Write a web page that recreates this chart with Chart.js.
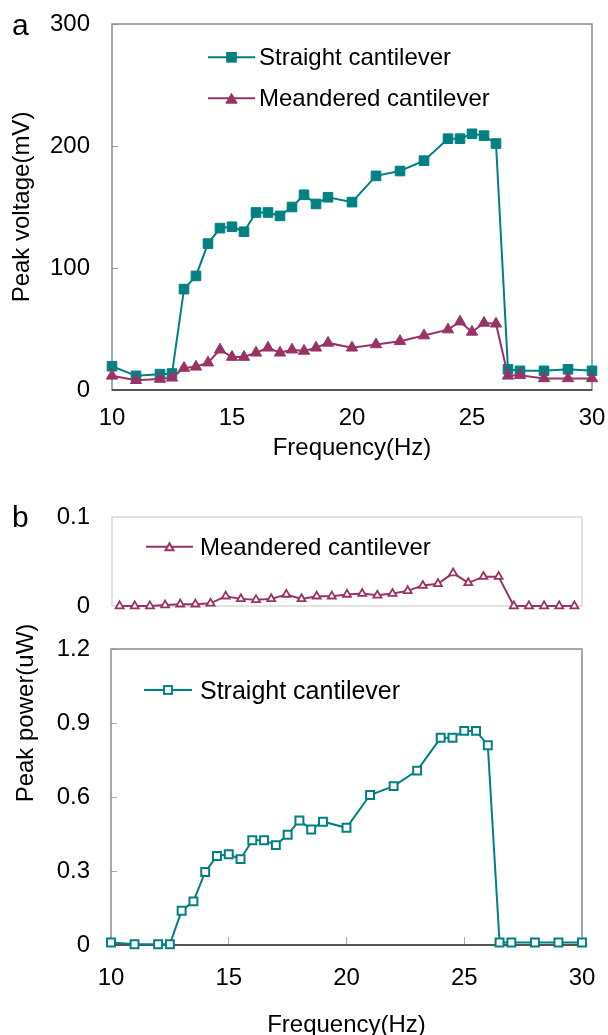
<!DOCTYPE html>
<html>
<head>
<meta charset="utf-8">
<script src="https://cdn.jsdelivr.net/npm/chart.js@4.4.1/dist/chart.umd.min.js"></script>
<style>
  html, body { margin: 0; padding: 0; background: #fff; overflow: hidden; }
  #page { position: relative; width: 608px; height: 1035px; overflow: hidden;
          font-family: 'Liberation Sans', Arial, sans-serif; color: #000; }
  canvas { position: absolute; left: 0; }
  .txt { position: absolute; white-space: nowrap; }
  .key { position: absolute; left: 0; top: 0; }
  .ytitle { position: absolute; white-space: nowrap; font-size: 24px; line-height: 24px;
            transform: translate(-50%, -50%) rotate(-90deg); }
</style>
</head>
<body>
<div id="page">
  <canvas id="chart-a" width="608" height="470" style="top:0"></canvas>
  <canvas id="chart-b1" width="608" height="140" style="top:490px"></canvas>
  <canvas id="chart-b2" width="608" height="410" style="top:630px"></canvas>

  <div class="txt" style="left:12px; top:10px; font-size:30px; line-height:30px;">a</div>
  <div class="txt" style="left:12px; top:502px; font-size:30px; line-height:30px;">b</div>
  <div class="ytitle" style="left:25px; top:713px;">Peak power(uW)</div>
</div>

<script>
// Dados (frequência em Hz)
const freqs = [10, 11, 12, 12.5, 13, 13.5, 14, 14.5, 15, 15.5, 16, 16.5, 17, 17.5, 18, 18.5, 19,
               20, 21, 22, 23, 24, 24.5, 25, 25.5, 26, 26.5, 27, 28, 29, 30];

// (a) tensão de pico, mV
const straightVoltage = [19.5, 11.6, 13, 13.5, 82.7, 93.5, 120, 132.7, 133.8, 129.7, 145.5, 145.5,
                         142.7, 150, 160, 152.5, 158, 154, 175.5, 179.5, 188, 206, 206, 210, 208.5,
                         202, 17, 15.7, 15.7, 17, 15.7];
const meanderedVoltage = [11.6, 8, 9, 10, 18, 19, 22.4, 33, 27, 27, 30.5, 34.6, 30.5, 33, 32, 34.6,
                          38.6, 34.6, 37.3, 40, 44.6, 49.5, 56, 47.6, 55, 54.3, 11.6, 12, 9.5, 9.5, 9.5];

// (b) potência de pico, uW
const meanderedPower = [0, 0, 0, 0.001, 0.002, 0.002, 0.003, 0.011, 0.008, 0.007, 0.008, 0.013,
                        0.008, 0.011, 0.011, 0.013, 0.014, 0.012, 0.014, 0.017, 0.023, 0.025, 0.037,
                        0.026, 0.033, 0.033, 0, 0, 0, 0, 0];
const straightPower = [0.01, 0.003, 0.003, 0.003, 0.139, 0.177, 0.296, 0.361, 0.368, 0.348, 0.425,
                       0.425, 0.405, 0.447, 0.505, 0.468, 0.5, 0.475, 0.608, 0.644, 0.707, 0.84, 0.84,
                       0.868, 0.868, 0.81, 0.01, 0.01, 0.01, 0.01, 0.01];

const TEAL = '#008080';
const PLUM = '#993366';

Chart.defaults.font.family = "'Liberation Sans', Arial, sans-serif";
Chart.defaults.font.size = 24;
Chart.defaults.color = '#000';

// moldura em volta da área do gráfico
const framePlugin = {
    id: 'frame',
    beforeDatasetsDraw(chart, args, opts) {
        const { left, top, right, bottom } = chart.chartArea;
        const ctx = chart.ctx;
        ctx.save();
        ctx.strokeStyle = opts.color;
        ctx.lineWidth = opts.width;
        ctx.strokeRect(left, top, right - left, bottom - top);
        if (opts.axisColor) {
            ctx.strokeStyle = opts.axisColor;
            ctx.lineWidth = opts.axisWidth;
            ctx.beginPath();
            ctx.moveTo(left, bottom);
            ctx.lineTo(right, bottom);
            ctx.stroke();
        }
        ctx.restore();
    }
};

// largura/altura fixas dos eixos, sem folga automática para os rótulos
function eixoY(largura) {
    return s => { s.width = largura; s.paddingTop = 0; s.paddingBottom = 0; };
}
function eixoX(altura) {
    return s => { s.height = altura; s.paddingLeft = 0; s.paddingRight = 0; };
}

function pontos(ys) {
    return freqs.map((f, i) => ({ x: f, y: ys[i] }));
}

// (a) Peak voltage
new Chart(document.getElementById('chart-a'), {
    type: 'line',
    data: {
        datasets: [{
            label: 'Straight cantilever',
            data: pontos(straightVoltage),
            borderColor: TEAL,
            backgroundColor: TEAL,
            borderWidth: 2,
            pointStyle: 'rect',
            pointRadius: 6.8,
            pointBorderWidth: 1,
            pointBackgroundColor: TEAL,
            order: 1,
            clip: false
        }, {
            label: 'Meandered cantilever',
            data: pontos(meanderedVoltage),
            borderColor: PLUM,
            backgroundColor: PLUM,
            borderWidth: 2,
            pointStyle: 'triangle',
            pointRadius: 6.5,
            pointBorderWidth: 1,
            pointBackgroundColor: PLUM,
            order: 0,
            clip: false
        }]
    },
    options: {
        responsive: false,
        animation: false,
        layout: { padding: { top: 24, right: 16, left: 0, bottom: 0 } },
        plugins: {
            legend: { display: false },
            tooltip: { enabled: false },
            frame: { color: '#8c8c8c', width: 1.5, axisColor: '#555', axisWidth: 2 }
        },
        scales: {
            x: {
                type: 'linear', min: 10, max: 30,
                ticks: { stepSize: 5, padding: 14 },
                grid: { display: false, drawTicks: false },
                border: { display: false },
                title: { display: true, text: 'Frequency(Hz)', padding: { top: 0, bottom: 7 } },
                afterFit: eixoX(80)
            },
            y: {
                min: 0, max: 300,
                ticks: { stepSize: 100, padding: 28 },
                grid: { drawOnChartArea: false, tickLength: -6, tickColor: '#9a9a9a' },
                border: { display: false },
                title: { display: true, text: 'Peak voltage(mV)', padding: { top: 8, bottom: 0 } },
                afterFit: eixoY(112)
            }
        }
    },
    plugins: [framePlugin]
});

// (b) topo: meandered, eixo de categorias
new Chart(document.getElementById('chart-b1'), {
    type: 'line',
    data: {
        labels: freqs.map(String),
        datasets: [{
            label: 'Meandered cantilever',
            data: meanderedPower,
            borderColor: PLUM,
            borderWidth: 2,
            pointStyle: 'triangle',
            pointRadius: 4.6,
            pointBorderWidth: 1.8,
            pointBorderColor: PLUM,
            pointBackgroundColor: '#fff',
            clip: false
        }]
    },
    options: {
        responsive: false,
        animation: false,
        layout: { padding: { top: 27, right: 26, left: 0, bottom: 24 } },
        plugins: {
            legend: { display: false },
            tooltip: { enabled: false },
            frame: { color: '#c4c4c4', width: 1 }
        },
        scales: {
            x: { type: 'category', offset: true, display: false },
            y: {
                min: 0, max: 0.1,
                ticks: { stepSize: 0.1, padding: 22, callback: v => v === 0 ? '0' : String(+v.toFixed(1)) },
                grid: { display: false, drawTicks: false },
                border: { display: false },
                afterFit: eixoY(112)
            }
        }
    },
    plugins: [framePlugin]
});

// (b) baixo: straight
new Chart(document.getElementById('chart-b2'), {
    type: 'line',
    data: {
        datasets: [{
            label: 'Straight cantilever',
            data: pontos(straightPower),
            borderColor: TEAL,
            borderWidth: 2,
            pointStyle: 'rect',
            pointRadius: 5.6,
            pointBorderWidth: 2,
            pointBorderColor: TEAL,
            pointBackgroundColor: '#fff',
            clip: false
        }]
    },
    options: {
        responsive: false,
        animation: false,
        layout: { padding: { top: 19, right: 26, left: 0, bottom: 0 } },
        plugins: {
            legend: { display: false },
            tooltip: { enabled: false },
            frame: { color: '#8c8c8c', width: 1.5, axisColor: '#555', axisWidth: 2 }
        },
        scales: {
            x: {
                type: 'linear', min: 10, max: 30,
                ticks: { stepSize: 5, padding: 27 },
                grid: { drawOnChartArea: false, tickLength: -8, tickColor: '#aaa' },
                border: { display: false },
                title: { display: true, text: 'Frequency(Hz)', padding: { top: 0, bottom: 0 } },
                afterFit: eixoX(95)
            },
            y: {
                min: 0, max: 1.2,
                ticks: { stepSize: 0.3, padding: 27, callback: v => v === 0 ? '0' : Number(v).toFixed(1) },
                grid: { drawOnChartArea: false, tickLength: -6, tickColor: '#aaa' },
                border: { display: false },
                afterFit: eixoY(111)
            }
        }
    },
    plugins: [framePlugin]
});

// Legendas (linha + marcador + texto), dentro das áreas dos gráficos
function marcadorSvg(shape, cx, cy, size, color, filled) {
    const fill = filled ? color : '#fff';
    const sw = filled ? 1 : 2;
    if (shape === 'rect') {
        return `<rect x="${cx - size / 2}" y="${cy - size / 2}" width="${size}" height="${size}" fill="${fill}" stroke="${color}" stroke-width="${sw}"/>`;
    }
    // triângulo com a caixa centrada na linha
    const r = size;
    const c = cy + r / 4;
    const pts = [[cx, c - r], [cx + r * 0.866, c + r / 2], [cx - r * 0.866, c + r / 2]]
        .map(p => p.join(',')).join(' ');
    return `<polygon points="${pts}" fill="${fill}" stroke="${color}" stroke-width="${sw}"/>`;
}

function addLegenda(item) {
    const page = document.getElementById('page');
    const svg = `<svg class="key" width="608" height="1035" style="pointer-events:none">
        <line x1="${item.x1}" y1="${item.y}" x2="${item.x2}" y2="${item.y}" stroke="${item.color}" stroke-width="2"/>
        ${marcadorSvg(item.shape, (item.x1 + item.x2) / 2, item.y, item.size, item.color, item.filled)}
    </svg>`;
    page.insertAdjacentHTML('beforeend', svg);
    const t = document.createElement('div');
    t.className = 'txt';
    t.style.left = item.textX + 'px';
    t.style.top = (item.y - item.fs / 2) + 'px';
    t.style.fontSize = item.fs + 'px';
    t.style.lineHeight = item.fs + 'px';
    t.textContent = item.text;
    page.appendChild(t);
}

addLegenda({ x1: 208, x2: 255, y: 57.3, color: TEAL, shape: 'rect', size: 9.6, filled: true,
             text: 'Straight cantilever', textX: 259, fs: 24 });
addLegenda({ x1: 208, x2: 255, y: 98.3, color: PLUM, shape: 'triangle', size: 6.5, filled: true,
             text: 'Meandered cantilever', textX: 259, fs: 24 });
addLegenda({ x1: 146, x2: 193, y: 546.7, color: PLUM, shape: 'triangle', size: 4.6, filled: false,
             text: 'Meandered cantilever', textX: 200, fs: 24 });
addLegenda({ x1: 144, x2: 192, y: 690, color: TEAL, shape: 'rect', size: 7.8, filled: false,
             text: 'Straight cantilever', textX: 200, fs: 25 });
</script>
</body>
</html>
